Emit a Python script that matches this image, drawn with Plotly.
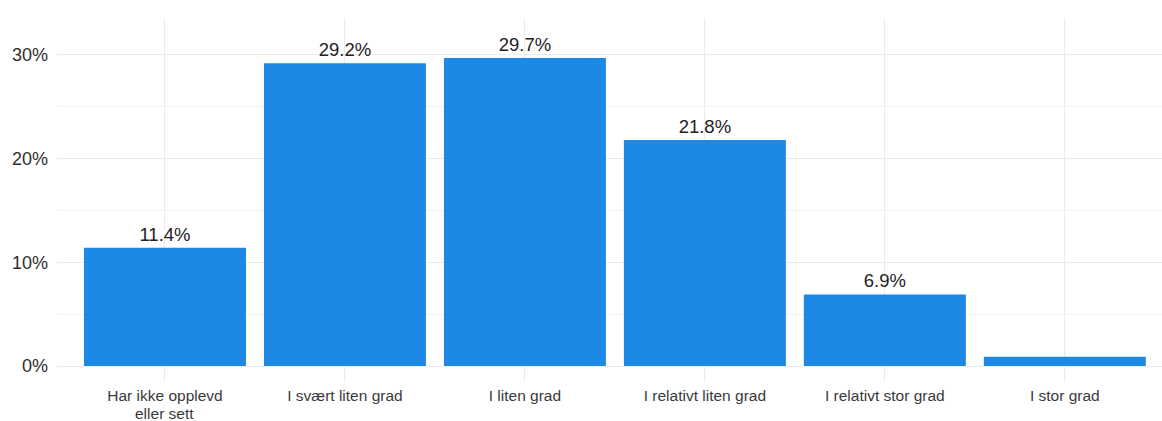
import plotly.graph_objects as go

categories = ["Har ikke opplevd", "I svært liten grad", "I liten grad",
              "I relativt liten grad", "I relativt stor grad", "I stor grad"]
category_line2 = ["eller sett", "", "", "", "", ""]
values = [11.4, 29.2, 29.7, 21.8, 6.9, 0.9]
labels = ["11.4%", "29.2%", "29.7%", "21.8%", "6.9%", ""]
ytick_vals = [0, 10, 20, 30]
ytick_text = ["0%", "10%", "20%", "30%"]

FONT = "Liberation Sans, Arial, Helvetica"
xpos = list(range(len(categories)))

fig = go.Figure(go.Bar(
    x=xpos, y=values, text=labels,
    textposition="outside", cliponaxis=False, textangle=0,
    outsidetextfont=dict(family=FONT, size=18.5, color="#222222"),
    marker=dict(color="#1E88E5", line=dict(width=0)),
    width=0.9, hoverinfo="skip",
))

for i, t in enumerate(category_line2):
    if t:
        fig.add_annotation(x=xpos[i], xref="x", y=0, yref="paper",
                           text=t, showarrow=False, yanchor="middle",
                           yshift=-31, height=15, borderpad=0,
                           font=dict(family=FONT, size=15.5, color="#3A3A3A"))

fig.update_layout(
    width=1162, height=421,
    margin=dict(l=57, r=0, t=18, b=39),
    paper_bgcolor="white", plot_bgcolor="white",
    showlegend=False,
    font=dict(family=FONT, color="#3A3A3A"),
)
fig.update_xaxes(
    range=[-0.6, 5.54], tickmode="array",
    tickvals=xpos, ticktext=categories,
    showgrid=True, gridcolor="#EBEBEB", gridwidth=1,
    zeroline=False, showline=False, automargin=False,
    ticks="", tickfont=dict(family=FONT, size=15.5, color="#3A3A3A"),
    ticklabelstandoff=2,
)
fig.update_yaxes(
    range=[-1.54, 33.56], tickmode="array",
    tickvals=ytick_vals, ticktext=ytick_text,
    showgrid=True, gridcolor="#EBEBEB", gridwidth=1.2,
    minor=dict(tickvals=[5, 15, 25], showgrid=True, gridcolor="#F2F2F2", gridwidth=1),
    zeroline=False, showline=False, ticks="", automargin=False,
    tickfont=dict(family=FONT, size=18, color="#2E2E2E"),
    ticklabelstandoff=8,
)

fig.write_html("out.html", config={"displayModeBar": False},
               post_script="document.body.style.margin='0';document.body.style.overflow='hidden';")
